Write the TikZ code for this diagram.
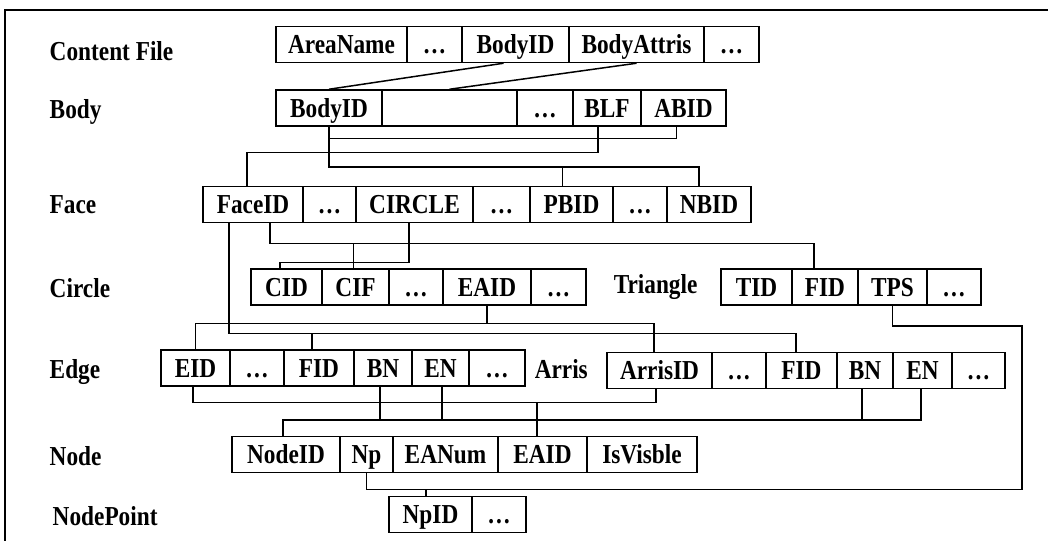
\documentclass[tikz,border=0pt]{standalone}
\usepackage{fontspec}
\setmainfont{Liberation Serif}
\newfontfamily\tallfont{Liberation Serif}[FakeStretch=0.85]
\usetikzlibrary{calc}
\begin{document}
\begin{tikzpicture}[x=0.02cm,y=-0.02cm,line width=0.85pt,
  cell/.style={draw,inner sep=0pt,minimum height=0.72cm,text height=12pt,text depth=1.2pt,
    font=\tallfont\bfseries\fontsize{15.6}{18}\selectfont},
  cellw/.style={minimum width=#1*0.02cm},
  lbl/.style={anchor=base west,inner sep=0pt,
    font=\tallfont\bfseries\fontsize{15.6}{18}\selectfont}]
\useasboundingbox (0,0) rectangle (1048,541);
\draw (1048,10) -- (5,10) -- (5,541);
% row labels
\node[lbl] (lCF) at (49,60) {Content File};
\node[lbl] (lBody) at (49,118) {Body};
\node[lbl] (lFace) at (49,213) {Face};
\node[lbl] (lCircle) at (49,297) {Circle};
\node[lbl] (lTri) at (613,293) {Triangle};
\node[lbl] (lEdge) at (49,378) {Edge};
\node[lbl] (lArris) at (534,378) {Arris};
\node[lbl] (lNode) at (49,465) {Node};
\node[lbl] (lNP) at (52,525) {NodePoint};
% content file
\node[cell,cellw=131] (cfArea) at (341.5,44.5) {AreaName};
\node[cell,cellw=55] (cfDots) at (434.5,44.5) {\dots};
\node[cell,cellw=107] (cfBody) at (515.5,44.5) {BodyID};
\node[cell,cellw=135] (cfAttr) at (636.5,44.5) {BodyAttris};
\node[cell,cellw=55] (cfMore) at (731.5,44.5) {\dots};
% body
\node[cell,cellw=106] (bID) at (329,108) {BodyID};
\node[cell,cellw=135] (bBlank) at (449.5,108) {};
\node[cell,cellw=56] (bDots) at (545,108) {\dots};
\node[cell,cellw=68] (bBLF) at (607,108) {BLF};
\node[cell,cellw=85] (bABID) at (683.5,108) {ABID};
% face
\node[cell,cellw=100] (fID) at (253,204.5) {FaceID};
\node[cell,cellw=53] (fDots1) at (329.5,204.5) {\dots};
\node[cell,cellw=117] (fCircle) at (414.5,204.5) {CIRCLE};
\node[cell,cellw=57] (fDots2) at (501.5,204.5) {\dots};
\node[cell,cellw=83] (fPBID) at (571.5,204.5) {PBID};
\node[cell,cellw=54] (fDots3) at (640,204.5) {\dots};
\node[cell,cellw=84] (fNBID) at (709,204.5) {NBID};
% circle and triangle
\node[cell,cellw=71] (cID) at (286.5,287) {CID};
\node[cell,cellw=67] (cCIF) at (355.5,287) {CIF};
\node[cell,cellw=54] (cDots1) at (416,287) {\dots};
\node[cell,cellw=88] (cEAID) at (487,287) {EAID};
\node[cell,cellw=55] (cDots2) at (558.5,287) {\dots};
\node[cell,cellw=71] (tID) at (756.5,287) {TID};
\node[cell,cellw=66] (tFID) at (825,287) {FID};
\node[cell,cellw=69] (tTPS) at (892.5,287) {TPS};
\node[cell,cellw=54] (tDots) at (954,287) {\dots};
% edge and arris
\node[cell,cellw=69] (eID) at (195.5,368) {EID};
\node[cell,cellw=54] (eDots1) at (257,368) {\dots};
\node[cell,cellw=70] (eFID) at (319,368) {FID};
\node[cell,cellw=58] (eBN) at (383,368) {BN};
\node[cell,cellw=57] (eEN) at (440.5,368) {EN};
\node[cell,cellw=56] (eDots2) at (497,368) {\dots};
\node[cell,cellw=105] (aID) at (659.5,370.5) {ArrisID};
\node[cell,cellw=54] (aDots1) at (739,370.5) {\dots};
\node[cell,cellw=71] (aFID) at (801.5,370.5) {FID};
\node[cell,cellw=56] (aBN) at (865,370.5) {BN};
\node[cell,cellw=59] (aEN) at (922.5,370.5) {EN};
\node[cell,cellw=53] (aDots2) at (978.5,370.5) {\dots};
% node and nodepoint
\node[cell,cellw=108] (nID) at (286,454.5) {NodeID};
\node[cell,cellw=53] (nNp) at (366.5,454.5) {Np};
\node[cell,cellw=105] (nEANum) at (445.5,454.5) {EANum};
\node[cell,cellw=89] (nEAID) at (542.5,454.5) {EAID};
\node[cell,cellw=110] (nVis) at (642,454.5) {IsVisble};
\node[cell,cellw=83] (pID) at (430.5,514.5) {NpID};
\node[cell,cellw=54] (pDots) at (499,514.5) {\dots};
% links
\draw (bID.north) -- ($(cfBody.south)+(-12,0)$);
\draw (bBlank.north) -- (cfAttr.south);
\draw (bID.south) -- ++(0,40.5) coordinate (pnJ) -| ($(fNBID.north)+(-10,0)$);
\draw (pnJ) -| ($(fPBID.north)+(-9,0)$);
\draw ($(bABID.south)+(-7,0)$) -- ++(0,12) -| (bID.south);
\draw ($(bBLF.south)+(-9,0)$) -- ++(0,26) -| ($(fID.north)+(-6,0)$);
\draw ($(fID.south)+(-24,0)$) -- ++(0,110.5) coordinate (ffJ) -| ($(aFID.north)+(-5.5,0)$);
\draw (ffJ) -| ($(eFID.north)+(-7,0)$);
\draw ($(fID.south)+(17,0)$) -- ++(0,20.5) coordinate (ftJ) -| ($(tFID.north)+(-11,0)$);
\draw (ftJ) -| ($(cCIF.north)+(-2,0)$);
\draw ($(fCircle.south)+(-5.5,0)$) -- ++(0,39.5) -| ($(cID.north)+(-6.5,0)$);
\draw (cEAID.south) -- ++(0,18) coordinate (eaJ);
\draw (eID.north) |- (eaJ) -| ($(aID.north)+(-5.5,0)$);
\draw ($(eID.south)+(-2.5,0)$) -- ++(0,16) coordinate (eiJ) -| ($(aID.south)+(-3.5,0)$);
\draw (eiJ) -| ($(nEAID.north)+(-5.5,0)$);
\draw ($(nID.north)+(-3,0)$) -- ++(0,-16) coordinate (nJ) -| ($(aEN.south)+(-1.5,0)$);
\draw (nJ) -| ($(eBN.south)+(-3,0)$);
\draw (nJ) -| ($(eEN.south)+(1.5,0)$);
\draw (nJ) -| ($(aBN.south)+(-3,0)$);
\draw (nNp.south) -- ++(0,16) coordinate (npJ) -| (1022,326) -| (tTPS.south);
\draw (npJ) -| ($(pID.north)+(-4.5,0)$);
\end{tikzpicture}
\end{document}
